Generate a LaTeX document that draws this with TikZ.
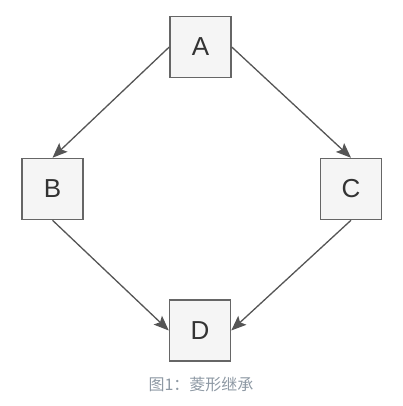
\documentclass[tikz,border=0pt]{standalone}
\usepackage{fontspec}
\setmainfont{Liberation Sans}
\newfontfamily\cjk{Noto Sans CJK SC}
\usetikzlibrary{arrows.meta}
\definecolor{boxfill}{HTML}{F5F5F5}
\definecolor{boxline}{HTML}{666666}
\definecolor{arrowcol}{HTML}{555555}
\definecolor{txtcol}{HTML}{333333}
\definecolor{capcol}{HTML}{8E99A4}
\begin{document}
\begin{tikzpicture}[x=1pt,y=-1pt,
  cls/.style={draw=boxline,fill=boxfill,line width=1.5pt,minimum width=61pt,minimum height=61pt,inner sep=0pt,text=txtcol,font=\fontsize{26}{26}\selectfont},
  inh/.style={draw=arrowcol,line width=1.3pt,-{Stealth[length=15pt,width=12pt,inset=3pt]}}]
\useasboundingbox (0,0) rectangle (403,406);
\node[cls] (A) at (200.5,47) {A};
\node[cls] (B) at (52.5,189) {B};
\node[cls] (C) at (351,189) {C};
\node[cls] (D) at (200,330.5) {D};
\draw[inh] (A.west) -- (B.north);
\draw[inh] (A.east) -- (C.north);
\draw[inh] (B.south) -- (D.west);
\draw[inh] (C.south) -- (D.east);
\node[text=capcol,font=\cjk\fontsize{16}{16}\selectfont,inner sep=0pt] (cap) at (201,384.5) {图1：菱形继承};
\end{tikzpicture}
\end{document}
